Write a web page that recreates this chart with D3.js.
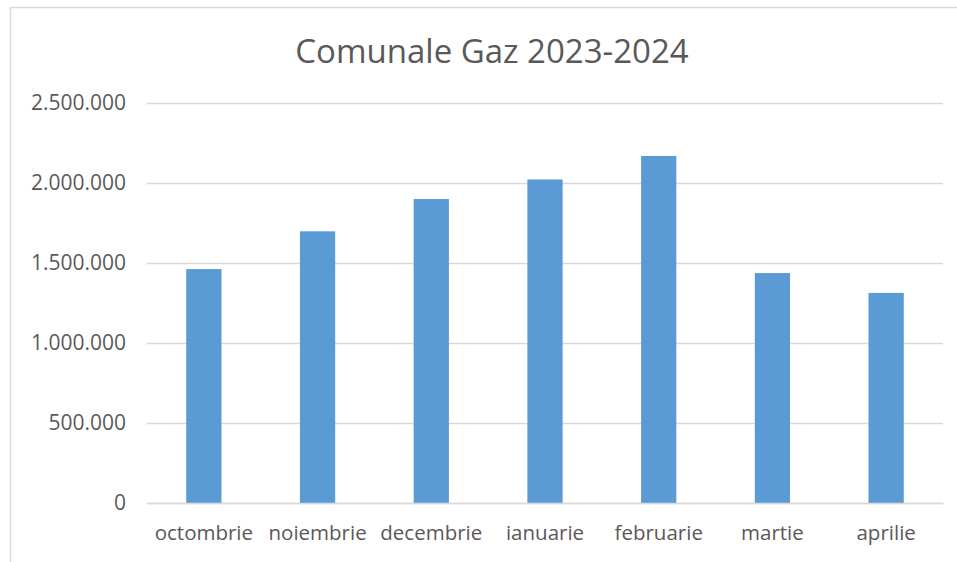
<html>
<head>
<script src="https://d3js.org/d3.v7.min.js"></script>
<style>
  body { margin: 0; background: #fff; }
  text { font-family: "Open Sans", "Noto Sans", sans-serif; fill: #595959; }
</style>
</head>
<body>
<svg width="957" height="562"></svg>
<script>
var categories = ["octombrie", "noiembrie", "decembrie", "ianuarie", "februarie", "martie", "aprilie"];
var values = [1462000, 1698000, 1900000, 2022000, 2169000, 1437000, 1313000];
var yTicks = [0, 500000, 1000000, 1500000, 2000000, 2500000];
var title = "Comunale Gaz 2023-2024";

var svg = d3.select("svg");
var marge = {top: 103, bottom: 56, left: 147, right: 14};
var width = +svg.attr("width");
var height = +svg.attr("height");

// chart area border
svg.append("rect")
  .attr("x", 10.5).attr("y", 7.5)
  .attr("width", 1000).attr("height", 700)
  .attr("fill", "#fff")
  .attr("stroke", "#d9d9d9")
  .attr("stroke-width", 1.5);

var g = svg.append("g")
  .attr("transform", "translate(" + marge.left + "," + marge.top + ")");

var innerW = width - marge.left - marge.right;
var innerH = height - marge.top - marge.bottom - 3;

var xScale = d3.scaleBand()
  .domain(categories)
  .range([0, innerW])
  .paddingInner(0.69)
  .paddingOuter(0.345);

var yScale = d3.scaleLinear()
  .domain([0, 2500000])
  .range([innerH, 0]);

var fmt = function(d) {
  return d3.format(",")(d).replace(/,/g, ".");
};

// gridlines + y labels
var yAxis = d3.axisLeft(yScale)
  .tickValues(yTicks)
  .tickSize(-innerW)
  .tickPadding(21)
  .tickFormat(fmt);
var ya = g.append("g").call(yAxis);
ya.select(".domain").remove();
ya.selectAll("line").attr("stroke", "#d9d9d9").attr("stroke-width", 1.5);
ya.selectAll("text").attr("font-size", 21).attr("fill", "#595959");

// bars
g.selectAll(".bar")
  .data(values)
  .enter()
  .append("rect")
  .attr("class", "bar")
  .attr("x", function(d, i) { return xScale(categories[i]); })
  .attr("y", function(d) { return yScale(d); })
  .attr("width", xScale.bandwidth())
  .attr("height", function(d) { return innerH - yScale(d); })
  .attr("fill", "#5b9bd5");

// x labels
var xAxis = d3.axisBottom(xScale).tickSize(0).tickPadding(22);
var xa = g.append("g")
  .attr("transform", "translate(0," + innerH + ")")
  .call(xAxis);
xa.select(".domain").attr("stroke", "#d9d9d9").attr("stroke-width", 1.5);
xa.selectAll("text").attr("font-size", 20.5).attr("fill", "#595959");

// title
svg.append("text")
  .attr("x", 492)
  .attr("y", 63)
  .attr("text-anchor", "middle")
  .attr("font-size", 33)
  .text(title);
</script>
</body>
</html>
